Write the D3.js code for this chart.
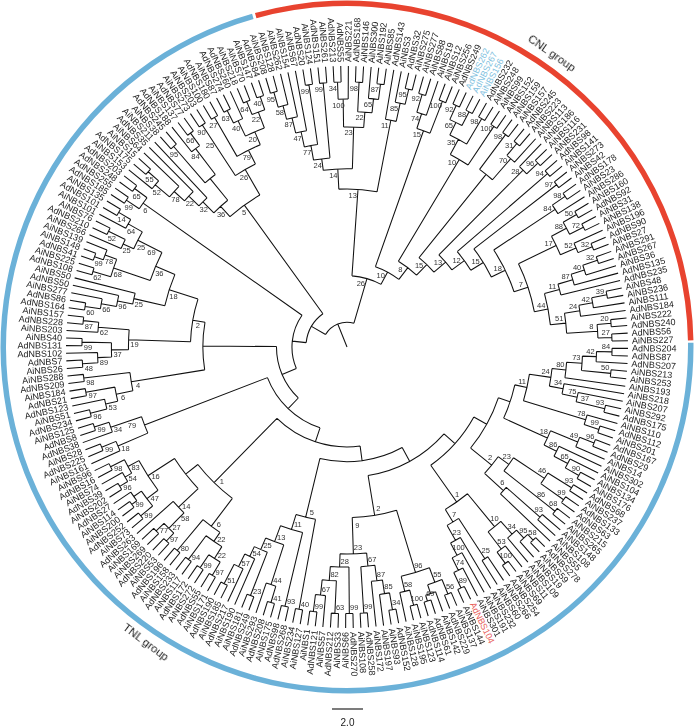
<!DOCTYPE html>
<html>
<head>
<meta charset="utf-8">
<script src="https://cdn.jsdelivr.net/npm/d3@7"></script>
<style>
html, body { margin: 0; padding: 0; background: #fff; }
text { font-family: "Liberation Sans", Arial, sans-serif; }
.mono { filter: grayscale(1); }
</style>
</head>
<body>
<script>
// a clade is [bootstrap, distance from root, child, child...], a tip is its name
var clade24 = ["24", 13.3,
    ["80", 14.2, ["73", 15.2, ["42", 16.1, ["84", 17.1, "AdNBS204", "AdNBS87"], "AdNBS207"], ["50", 17.1, "AiNBS213", "AiNBS253"]], "AiNBS193"],
    ["34", 14.2, "AiNBS218", ["75", 15.2, "AiNBS207", ["37", 16.1, ["93", 17.1, "AiNBS292", "AdNBS175"]]]]];
var clade78 = ["78", 16.1, "AiNBS110", ["99", 17.1, "AdNBS112", "AiNBS201"]];
var clade18a = ["18", 14.2,
    ["49", 16.1, ["96", 17.1, "AdNBS167", "AdNBS29"], "AiNBS14"],
    ["86", 15.1, "AiNBS302", ["65", 16.1, "AiNBS104", ["90", 17.1, "AiNBS134", "AiNBS176"]]]];
var clade2a = ["2", 12.05,
    ["23", 12.9, ["46", 15.3, ["93", 17.1, "AdNBS68", "AiNBS237"], ["99", 17.1, "AdNBS133", "AdNBS63"]], ["86", 16.1, ["68", 17.1, "AiNBS215", "AiNBS265"]]],
    ["6", 13.7, ["93", 16.6, "AiNBS148", "AiNBS108"], "AiNBS55"]];
var clade10a = ["10", 15,
    ["34", 16.1, ["95", 16.8, ["58", 17.3, "AdNBS278", "AiNBS59"], "AiNBS19"], "AiNBS109"],
    ["53", 16.4, "AiNBS11", ["100", 17.3, "AiNBS69", "AdNBS254"]]];
var clade7a = ["7", 13.2,
    ["25", 16.3, "AiNBS266", "AiNBS60"],
    ["23", 14.3, "AiNBS232", ["100", 15.2, "AiNBS191", ["74", 16.1, "AiNBS301", ["89", 17.2, "AdNBS104", "AiNBS144"]]]]];
var clade2b = ["2", 11,
    ["96", 15.2,
        ["55", 16.2, ["56", 17.2, "AiNBS137", "AdNBS229"], ["", 16.8, "AiNBS142", ["69", 17.2, "AdNBS61", "AdNBS114"]]],
        ["58", 16.2, ["100", 17.2, "AiNBS123", "AiNBS195"], "AiNBS128"]],
    ["9", 11.9, ["23", 13.35,
        ["67", 14.2, ["87", 15.2, ["85", 16.1, ["34", 17.2, "AdNBS152", "AiNBS93"], "AiNBS197"], "AiNBS172"], ["99", 17.2, "AdNBS258", "AiNBS108b"]],
        ["28", 14.2, ["99", 17.2, "AdNBS270", "AiNBS66"], ["82", 15.1, ["63", 17.2, "AiNBS33", "AdNBS212"], ["67", 16.1, "AiNBS57", ["99", 17.2, "AdNBS121", "AiNBS1"]]]]]]];
var clade5a = ["5", 11.3,
    ["40", 17.2, "AiNBS127", "AiNBS234"],
    ["11", 12.3, ["93", 17.2, "AdNBS268", "AdNBS98"],
        ["13", 13.4,
            ["44", 16.1, ["41", 17.2, "AiNBS175", "AdNBS208"], "AiNBS293"],
            ["25", 14.2, ["23", 17.2, "AdNBS249", "AiNBS181"], ["54", 14.9, "AiNBS190", ["57", 15.8, "AdNBS217", ["51", 17.2, "AiNBS185", "AdNBS190"]]]]]]];
var clade6a = ["6", 14.5,
    ["22", 15.2, ["22", 16.1, ["97", 17.1, "AiNBS171", "AdNBS55b"], ["99", 17.1, "AiNBS272", "AdNBS172"]], ["94", 17.1, "AiNBS117", "AdNBS233"]],
    ["80", 17.1, "AiNBS158", "AdNBS196"]];
var clade14 = ["14", 15, ["58", 15.6, ["27", 16.4, ["97", 17.1, "AiNBS53", "AdNBS220"], ["77", 17.1, "AiNBS269", "AiNBS169"]]], "AdNBS263"];
var clade16 = ["16", 15.3,
    ["47", 16.2, ["99", 17.2, "AiNBS73", "AdNBS252"], ["", 16.8, ["99", 17.2, "AiNBS200", "AiNBS114"], "AdNBS27"]],
    ["83", 16.1, ["54", 16.6, ["96", 17.2, "AiNBS202", "AdNBS39"], "AiNBS74"], ["98", 17.1, "AdNBS16", "AiNBS96"]]];
var clade79 = ["", 14,
    ["18", 16.1, "AiNBS161", ["99", 17.1, "AdNBS225", "AiNBS28"]],
    ["79", 15.15, ["34", 16.1, "AdNBS38", ["99", 17.1, "AdNBS8", "AiNBS125"]]]];
var clade4 = ["4", 14.1,
    ["6", 15.2, ["53", 16, ["96", 17.1, "AdNBS234", "AiNBS51"], "AdNBS123"], ["97", 17.1, "AdNBS21", "AiNBS184"]],
    ["98", 17.1, "AdNBS209", "AiNBS288"]];
var clade19 = ["19", 14.1,
    ["37", 15.2, ["89", 16.1, ["48", 17.1, "AiNBS26", "AdNBS7"], "AdNBS102"], ["99", 17.1, "AdNBS131", "AiNBS40"]],
    ["62", 16.1, "AiNBS203", ["87", 17.1, "AdNBS228", "AiNBS157"]]];
var clade18b = ["18", 12.05,
    ["25", 14.1, ["96", 15.1, ["66", 16.1, ["60", 17.1, "AdNBS164", "AdNBS86"], "AiNBS277"], "AdNBS50"], "AiNBS50"],
    ["36", 13.4,
        ["68", 15.9, ["62", 17.1, "AdNBS108", "AiNBS225"], ["78", 16.7, ["99", 17.3, "AdNBS41", "AiNBS148b"], "AiNBS139"]],
        ["69", 14.4, ["25", 15.15,
            ["25", 15.9, "AiNBS266b", ["52", 17.1, "AdNBS210", "AiNBS76"]],
            ["64", 16.2, "AiNBS101", ["14", 17.1, "AdNBS101", "AiNBS135"]]]]]];
var clade6b = ["6", 16.1, ["99", 17.1, "AdNBS185", "AdNBS255"], ["65", 17.1, "AdNBS248", "AdNBS203"]];
var clade36 = ["36", 12.2,
    ["32", 13.2, ["22", 14.1, ["78", 15, ["52", 16.2, "AiNBS153", ["55", 17.1, "AdNBS175b", "AiNBS15"]], "AiNBS64"], "AdNBS35"], "AiNBS211"],
    ["", 14, ["95", 17.1, "AiNBS38", "AdNBS245b"], ["84", 16.1, "AdNBS188", ["66", 17.1, "AiNBS137b", "AdNBS77"]]]];
var clade26a = ["26", 13.2,
    ["25", 16.1, ["90", 17.1, "AiNBS273b", "AiNBS203b"]],
    ["79", 14.2, ["27", 17.1, "AiNBS100", "AdNBS180"],
        ["20", 15.1,
            ["40", 16.2, ["63", 17.1, "AiNBS87", "AdNBS274"], "AdNBS260"],
            ["22", 16.2, ["64", 17.1, "AiNBS218b", "AiNBS70"], ["40", 17.1, "AiNBS147", "AdNBS84"]]]]];

var clade24c = ["24", 12.25,
    ["77", 13.2, ["47", 14.2, ["87", 15.2, ["58", 16.1, ["95", 17.1, "AiNBS208", "AiNBS128b"], "AiNBS262"], "AiNBS154"], "AiNBS67"], ["99", 17.1, "AdNBS20", "AiNBS124"]],
    ["99", 17.1, "AdNBS151", "AiNBS261"]];
var clade23c = ["23", 14.2,
    ["100", 16, ["34", 17.1, "AdNBS213", "AdNBS55"], "AiNBS221"],
    ["22", 15.2, ["98", 17.1, "AdNBS168", "AiNBS146"], ["65", 16.1, "AiNBS300", ["87", 17.1, "AiNBS192", "AiNBS85"]]]];
var clade11c = ["11", 14.9, "AdNBS143", ["85", 16.1, "AiNBS3", ["95", 17.1, "AdNBS32", "AiNBS275"]]];
var clade15c = ["15", 14.8, ["74", 15.8, ["92", 17, "AiNBS277b", "AiNBS88"], "AiNBS19"], ["100", 17, "AiNBS12", "AiNBS256"]];
var clade10c = ["10", 14.1,
    ["35", 15.2, ["65", 16.1, ["92", 17.1, "AdNBS249b", "AdNBS262"], ["88", 17.1, "AdNBS267", "AiNBS156"]], ["98", 17.1, "AdNBS232", "AiNBS248"]],
    ["100", 17.1, "AiNBS99", "AiNBS152"]];
var cladeX = ["", 14.3, ["98", 17.1, "AiNBS159", "AiNBS157b"], ["70", 16.1, ["31", 17.1, "AdNBS245", "AiNBS223"], "AiNBS113"]];
var clade28 = ["28", 16.1, "AiNBS186", ["96", 17.1, "AiNBS116", "AiNBS231"]];
var clade84 = ["84", 16.1, ["98", 17.1, "AdNBS178", "AiNBS23"], "AiNBS286"];
var clade17 = ["17", 15,
    ["88", 16.1, ["50", 17.1, "AiNBS160", "AdNBS92"], ["72", 17.1, "AiNBS31", "AiNBS138"]],
    ["52", 16.1, "AiNBS196", ["32", 17.1, "AdNBS90", "AiNBS27"]]];
var clade44 = ["44", 13.2,
    ["11", 14.2, ["87", 15.2, ["40", 16.1, ["32", 17.1, "AiNBS291", "AiNBS267"], "AiNBS36"], "AdNBS135"], "AdNBS235"],
    ["51", 14.2,
        ["24", 15.2, ["42", 16.1, ["39", 17.1, "AiNBS48", "AiNBS236"], "AiNBS111"], "AdNBS184"],
        ["8", 16.2, ["20", 17.1, "AiNBS222", "AdNBS240"], ["27", 17.1, "AdNBS56", "AiNBS227"]]]];

var tnlGroup = ["", 2.65,
    ["", 3.55,
        ["", 4.55,
            ["", 5.5,
                ["", 6.45,
                    ["", 7.4,
                        ["", 8.4,
                            ["", 9.35,
                                ["", 10.3, ["", 11.1, ["11", 11.9, clade24, clade78], clade18a], clade2a],
                                ["1", 12.25, clade10a, clade7a]],
                            clade2b],
                        clade5a],
                    ["1", 12.25, clade6a, ["", 13.25, clade14, clade16]]],
                clade79],
            ["", 9.3, clade4, ["2", 10.1, clade19, clade18b]]],
        clade6b],
    ["5", 11.3, clade36, clade26a]];

var cnlGroup = ["26", 4.6,
    ["13", 10.2, ["14", 11.5, clade24c, clade23c], clade11c],
    ["10", 5.5, clade15c,
        ["8", 6.45, clade10c,
            ["15", 7.4, cladeX,
                ["13", 8.4, clade28,
                    ["12", 9.4, ["94", 17.1, "AdNBS98b", "AiNBS141"],
                        ["15", 10.35, ["97", 17.1, "AiNBS273", "AiNBS42"],
                            ["18", 11.35, clade84, ["7", 12.3, clade17, clade44]]]]]]]]];

var treeData = ["", 1.6, tnlGroup, cnlGroup];

var blueTips = ["AdNBS262", "AdNBS267", "AiNBS156"];
var redTips = ["AdNBS104"];
var ringGroups = ["TNL group", "CNL group"];
var ringColors = ["#6bb1d8", "#e8432f"];
var ringSpans = [[89.3, 344.1], [344.6, 448.9]];
var tipDistance = 18.13;
var firstTipAngle = 89.5;
var scaleBarLength = 2;

var width = 695, height = 728, cx = 347, cy = 347;

var svg = d3.select("body").append("svg")
    .attr("width", width).attr("height", height)
    .style("display", "block");

var g = svg.append("g").attr("transform", "translate(" + cx + "," + cy + ")");

var radius = d3.scaleLinear().domain([0, tipDistance]).range([0, 281]);

var root = d3.hierarchy(treeData, function (d) {
    return Array.isArray(d) ? d.slice(2) : null;
});

var tips = root.leaves();
var angle = d3.scaleLinear().domain([0, tips.length]).range([firstTipAngle, firstTipAngle + 360]);

tips.forEach(function (d, i) {
    d.name = d.data;
    d.deg = angle(i + 0.5);
    d.r = radius(tipDistance);
});

root.eachAfter(function (d) {
    if (d.children) {
        d.deg = (d.children[0].deg + d.children[d.children.length - 1].deg) / 2;
        d.r = radius(d.data[1]);
        d.support = d.data[0];
    }
});

var toRad = function (deg) { return deg * Math.PI / 180; };
var polar = function (r, deg) {
    return [r * Math.sin(toRad(deg)), -r * Math.cos(toRad(deg))];
};

// branches: one arc per node and one radial line per child
var branches = d3.path();
root.descendants().forEach(function (d) {
    if (!d.children) return;
    var first = d.children[0], last = d.children[d.children.length - 1];
    if (first !== last) {
        var start = polar(d.r, first.deg);
        branches.moveTo(start[0], start[1]);
        branches.arc(0, 0, d.r, toRad(first.deg - 90), toRad(last.deg - 90));
    }
    d.children.forEach(function (c) {
        var a = polar(d.r, c.deg), b = polar(c.r, c.deg);
        branches.moveTo(a[0], a[1]);
        branches.lineTo(b[0], b[1]);
    });
});
var stem = polar(root.r, root.deg);
branches.moveTo(0, 0);
branches.lineTo(stem[0], stem[1]);

g.append("path")
    .attr("d", branches.toString())
    .attr("fill", "none")
    .attr("stroke", "#111")
    .attr("stroke-width", 1.05);

var isColored = function (d) {
    return blueTips.indexOf(d.name) >= 0 || redTips.indexOf(d.name) >= 0;
};

// tip names, the plain ones go through a grey filter so the glyphs stay neutral
var plainLayer = g.append("g").attr("class", "mono");

var drawTips = function (layer, data) {
    layer.selectAll("text.tip")
        .data(data)
        .enter().append("text")
        .attr("class", "tip")
        .attr("font-size", 9)
        .attr("dominant-baseline", "central")
        .attr("fill", function (d) {
            if (blueTips.indexOf(d.name) >= 0) return "#7fbfe0";
            if (redTips.indexOf(d.name) >= 0) return "#e8605a";
            return "#222";
        })
        .attr("text-anchor", function (d) {
            var a = (d.deg + 360) % 360;
            return a < 180 ? "start" : "end";
        })
        .attr("transform", function (d) {
            var a = (d.deg + 360) % 360;
            var p = polar(285, d.deg);
            var rot = a < 180 ? a - 90 : a + 90;
            return "translate(" + p[0] + "," + p[1] + ") rotate(" + rot + ")";
        })
        .text(function (d) { return d.name.replace(/[a-z]$/, ""); });
};
drawTips(plainLayer, tips.filter(function (d) { return !isColored(d); }));
drawTips(g.append("g"), tips.filter(isColored));

// bootstrap values sit just inside the node, counter-clockwise of its stem
plainLayer.selectAll("text.support")
    .data(root.descendants().filter(function (d) { return d.support; }))
    .enter().append("text")
    .attr("class", "support")
    .attr("font-size", 7.5)
    .attr("fill", "#333")
    .attr("text-anchor", "middle")
    .attr("dominant-baseline", "central")
    .attr("x", function (d) { return polar(d.r - 6, d.deg - 5 / d.r * 180 / Math.PI)[0]; })
    .attr("y", function (d) { return polar(d.r - 6, d.deg - 5 / d.r * 180 / Math.PI)[1]; })
    .text(function (d) { return d.support; });

// outer ring
var ringArc = d3.arc().innerRadius(341).outerRadius(346.5);
g.selectAll("path.ring")
    .data(ringGroups)
    .enter().append("path")
    .attr("class", "ring")
    .attr("fill", function (d, i) { return ringColors[i]; })
    .attr("d", function (d, i) {
        return ringArc({ startAngle: toRad(ringSpans[i][0]), endAngle: toRad(ringSpans[i][1]) });
    });

var notes = svg.append("g").attr("class", "mono");
notes.append("text")
    .attr("transform", "translate(146,642) rotate(37)")
    .attr("font-size", 11.5).attr("fill", "#222")
    .attr("text-anchor", "middle").attr("dominant-baseline", "central")
    .text(ringGroups[0]);
notes.append("text")
    .attr("transform", "translate(552,53) rotate(35)")
    .attr("font-size", 11.5).attr("fill", "#222")
    .attr("text-anchor", "middle").attr("dominant-baseline", "central")
    .text(ringGroups[1]);

// scale bar
var barLength = radius(scaleBarLength);
svg.append("line")
    .attr("x1", 347.5 - barLength / 2).attr("x2", 347.5 + barLength / 2)
    .attr("y1", 709).attr("y2", 709)
    .attr("stroke", "#111").attr("stroke-width", 1.1);
notes.append("text")
    .attr("x", 347.5).attr("y", 722)
    .attr("font-size", 10).attr("fill", "#222")
    .attr("text-anchor", "middle").attr("dominant-baseline", "central")
    .text(d3.format(".1f")(scaleBarLength));
</script>
</body>
</html>
